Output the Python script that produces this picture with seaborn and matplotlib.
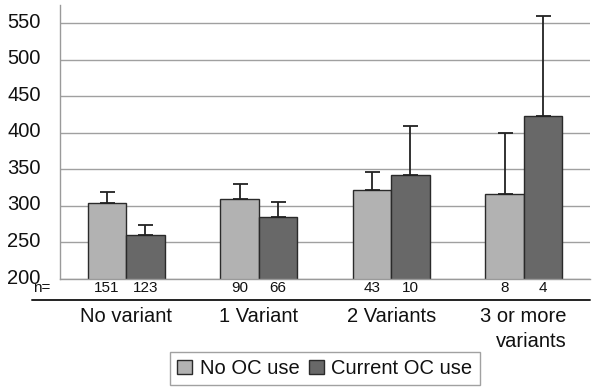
import matplotlib
matplotlib.use("Agg")
import matplotlib.pyplot as plt
import matplotlib.transforms as mtransforms
import seaborn as sns
import pandas as pd
import numpy as np
from matplotlib.lines import Line2D

# ---- data ----
categories = ["No variant", "1 Variant", "2 Variants", "3 or more\nvariants"]
series = ["No OC use", "Current OC use"]
mean_no_oc = [304, 310, 322, 316]
upper_no_oc = [319, 330, 347, 400]
mean_cur_oc = [260, 285, 343, 423]
upper_cur_oc = [274, 306, 409, 560]
n_no_oc = [151, 90, 43, 8]
n_cur_oc = [123, 66, 10, 4]
yticks = [200, 250, 300, 350, 400, 450, 500, 550]

df = pd.DataFrame({
    "group": categories * 2,
    "use": [series[0]] * 4 + [series[1]] * 4,
    "value": mean_no_oc + mean_cur_oc,
})

sns.set_theme(style="white")
plt.rcParams["font.family"] = ["Liberation Sans", "DejaVu Sans"]

fig = plt.figure(figsize=(5.95, 3.87), dpi=100)
ax = fig.add_axes([60 / 595, 1 - 279 / 387, 530 / 595, 274 / 387])

palette = {series[0]: "#b2b2b2", series[1]: "#686868"}
sns.barplot(data=df, x="group", y="value", hue="use", order=categories,
            hue_order=series, palette=palette, width=0.58, gap=0,
            edgecolor="#2a2a2a", linewidth=1.0, errorbar=None, ax=ax,
            saturation=1)

# error bars (upper only)
uppers = [upper_no_oc, upper_cur_oc]
means = [mean_no_oc, mean_cur_oc]
for cont, up, mn in zip(ax.containers, uppers, means):
    xs = [b.get_x() + b.get_width() / 2 for b in cont]
    lo = np.zeros(len(mn))
    hi = np.array(up) - np.array(mn)
    ax.errorbar(xs, mn, yerr=[lo, hi], fmt="none", ecolor="#222222",
                elinewidth=1.3, capsize=5.4, capthick=1.3, zorder=1)

ax.set_ylim(200, 575)
ax.set_xlim(-0.5, 3.5)
ax.set_yticks(yticks)
ax.set_yticklabels([str(t) for t in yticks], fontsize=14.5, color="#111111")
ax.yaxis.grid(True, color="#a0a0a0", linewidth=1.0)
ax.set_axisbelow(True)
ax.tick_params(axis="y", length=0, pad=14)
ax.tick_params(axis="x", length=0, pad=20)
ax.set_xticks(range(len(categories)))
ax.set_xticklabels(categories, fontsize=14.5, color="#111111")
for t in ax.get_xticklabels():
    t.set_multialignment("right")
    t.set_linespacing(1.4)
# shift the y tick labels up a little, like the reference
offset = mtransforms.ScaledTranslation(0, 3 / 100, fig.dpi_scale_trans)
for t in ax.get_yticklabels():
    t.set_transform(t.get_transform() + offset)
ax.set_xlabel("")
ax.set_ylabel("")
for s in ["top", "right"]:
    ax.spines[s].set_visible(False)
ax.spines["left"].set_color("#9a9a9a")
ax.spines["left"].set_linewidth(1.0)
ax.spines["bottom"].set_color("#9a9a9a")
ax.spines["bottom"].set_linewidth(1.0)

# n= row
trans = ax.get_xaxis_transform()
ny = -9 / 274
for cont, ns in zip(ax.containers, [n_no_oc, n_cur_oc]):
    for b, n in zip(cont, ns):
        ax.text(b.get_x() + b.get_width() / 2, ny, str(n), transform=trans,
                ha="center", va="center", fontsize=11, color="#111111")
fig.text(33 / 595, 1 - 288 / 387, "n=", ha="left", va="center",
         fontsize=11, color="#111111")

# separator line under the n row
fig.add_artist(Line2D([32 / 595, 590 / 595], [1 - 299.5 / 387] * 2,
                      transform=fig.transFigure, color="#222222",
                      linewidth=1.4))

# legend
handles, labels = ax.get_legend_handles_labels()
if ax.get_legend() is not None:
    ax.get_legend().remove()
leg = fig.legend(handles, labels, loc="upper center",
                 bbox_to_anchor=(325 / 595, 1 - 352 / 387), ncol=2,
                 fontsize=14.5, frameon=True, fancybox=False,
                 handlelength=0.75, handleheight=0.75, handletextpad=0.35,
                 columnspacing=0.5, borderpad=0.35, borderaxespad=0)
leg.get_frame().set_edgecolor("#8a8a8a")
leg.get_frame().set_linewidth(1.0)
for t in leg.get_texts():
    t.set_color("#111111")

fig.savefig("out.png", dpi=100)
